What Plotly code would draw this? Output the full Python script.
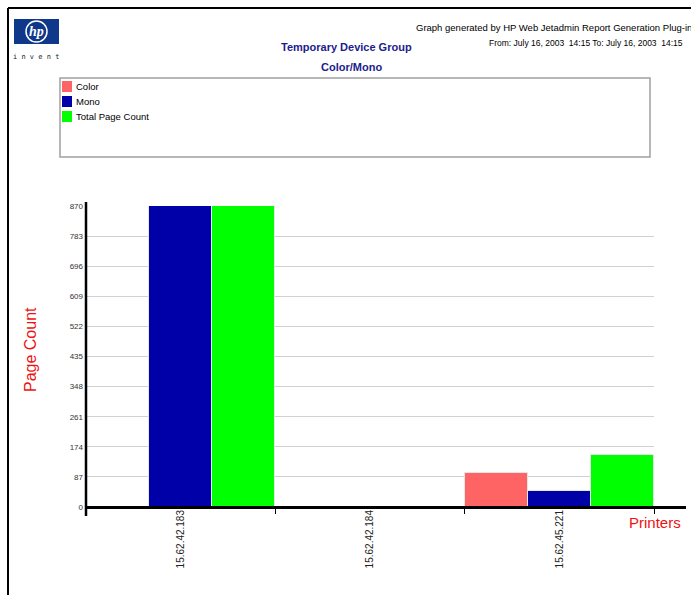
import plotly.graph_objects as go

# ---- data ----
printers = ["15.62.42.183", "15.62.42.184", "15.62.45.221"]
series_names = ["Color", "Mono", "Total Page Count"]
color_vals = [0, 0, 97]
mono_vals = [870, 0, 46]
total_vals = [870, 0, 150]
y_ticks = [0, 87, 174, 261, 348, 435, 522, 609, 696, 783, 870]

title_line1 = "Temporary Device Group"
title_line2 = "Color/Mono"
gen_text = "Graph generated by HP Web Jetadmin Report Generation Plug-in"
date_text = "From: July 16, 2003  14:15 To: July 16, 2003  14:15"

bar_colors = ["#ff6464", "#0000a8", "#00ff00"]

W, H = 691, 595
L, R, T, B = 86, 37, 206, 88
PW, PH = W - L - R, H - T - B

def px(x):
    return (x - L) / PW

def py(y):
    return (H - B - y) / PH

FONT = "Liberation Sans Narrow, Liberation Sans, Arial, sans-serif"

fig = go.Figure()
for name, vals, c in zip(series_names, [color_vals, mono_vals, total_vals], bar_colors):
    fig.add_trace(go.Bar(x=printers, y=vals, name=name, marker_color=c,
                         marker_line_color="#e6e6e6", marker_line_width=1))

shapes = []
annotations = []

# page border (left and top)
shapes.append(dict(type="line", xref="paper", yref="paper", x0=px(8), x1=px(8), y0=py(8), y1=py(600),
                   line=dict(color="black", width=2)))
shapes.append(dict(type="line", xref="paper", yref="paper", x0=px(8), x1=px(700), y0=py(8), y1=py(8),
                   line=dict(color="black", width=2)))

# legend box
shapes.append(dict(type="rect", xref="paper", yref="paper", x0=px(60), x1=px(650), y0=py(78), y1=py(157),
                   line=dict(color="#a0a0a0", width=1.5), fillcolor="white"))
for i, (name, c) in enumerate(zip(series_names, bar_colors)):
    yc = 86 + 15 * i
    shapes.append(dict(type="rect", xref="paper", yref="paper", x0=px(62), x1=px(72),
                       y0=py(yc - 5), y1=py(yc + 6), line=dict(width=0), fillcolor=c))
    annotations.append(dict(xref="paper", yref="paper", x=px(74), y=py(yc), text=name,
                            showarrow=False, xanchor="left", yanchor="middle",
                            font=dict(family=FONT, size=9.5, color="black")))

# axis lines (thick, extended)
shapes.append(dict(type="line", xref="paper", yref="paper", x0=px(85), x1=px(686), y0=py(507.5), y1=py(507.5),
                   line=dict(color="black", width=3)))
shapes.append(dict(type="line", xref="paper", yref="paper", x0=px(86), x1=px(86), y0=py(202), y1=py(516),
                   line=dict(color="black", width=2.5)))

# HP logo
shapes.append(dict(type="rect", xref="paper", yref="paper", x0=px(15), x1=px(58), y0=py(20), y1=py(43),
                   line=dict(color="#10388a", width=2), fillcolor="#10388a"))
shapes.append(dict(type="circle", xref="paper", yref="paper", x0=px(26), x1=px(47), y0=py(21), y1=py(42),
                   line=dict(color="white", width=1.5), fillcolor="#10388a"))
annotations.append(dict(xref="paper", yref="paper", x=px(36.5), y=py(31.5), text="<b><i>hp</i></b>",
                        showarrow=False, xanchor="center", yanchor="middle",
                        font=dict(family="Liberation Serif, serif", size=14, color="white")))
annotations.append(dict(xref="paper", yref="paper", x=px(36), y=py(57), text="i n v e n t",
                        showarrow=False, xanchor="center", yanchor="middle",
                        font=dict(family="DejaVu Sans Mono, monospace", size=7, color="#222")))

# titles
annotations.append(dict(xref="paper", yref="paper", x=px(346), y=py(47), text="<b>" + title_line1 + "</b>",
                        showarrow=False, xanchor="center", yanchor="middle",
                        font=dict(family=FONT, size=11, color="#1c1c8c")))
annotations.append(dict(xref="paper", yref="paper", x=px(351), y=py(67), text="<b>" + title_line2 + "</b>",
                        showarrow=False, xanchor="center", yanchor="middle",
                        font=dict(family=FONT, size=11, color="#1c1c8c")))
annotations.append(dict(xref="paper", yref="paper", x=px(694), y=py(27), text=gen_text,
                        showarrow=False, xanchor="right", yanchor="middle",
                        font=dict(family=FONT, size=9.5, color="black")))
annotations.append(dict(xref="paper", yref="paper", x=px(685), y=py(43), text=date_text,
                        showarrow=False, xanchor="right", yanchor="middle",
                        font=dict(family=FONT, size=8.5, color="black")))

# axis titles
annotations.append(dict(xref="paper", yref="paper", x=px(30), y=py(350), text="Page Count",
                        showarrow=False, textangle=-90, xanchor="center", yanchor="middle",
                        font=dict(family=FONT, size=16, color="#ee1111")))
annotations.append(dict(xref="paper", yref="paper", x=px(655), y=py(522), text="Printers",
                        showarrow=False, xanchor="center", yanchor="middle",
                        font=dict(family=FONT, size=15, color="#ee1111")))

fig.update_layout(
    width=W, height=H,
    margin=dict(l=L, r=R, t=T, b=B, pad=0),
    paper_bgcolor="white", plot_bgcolor="white",
    barmode="group", bargap=0, bargroupgap=0,
    showlegend=False,
    shapes=shapes, annotations=annotations,
    xaxis=dict(type="category", tickson="boundaries", ticks="outside", ticklen=6, tickwidth=1,
               tickcolor="black", tickangle=-90, showgrid=False, showline=False, zeroline=False,
               tickfont=dict(family=FONT, size=10, color="#222")),
    yaxis=dict(range=[0, 870], tickvals=y_ticks, ticktext=[str(v) for v in y_ticks],
               showgrid=True, gridcolor="#d2d2d2", gridwidth=1, zeroline=False, showline=False,
               ticks="", ticklabelstandoff=2,
               tickfont=dict(family=FONT, size=8, color="#333")),
    font=dict(family=FONT),
)

fig.write_html("out.html", config={"displayModeBar": False},
               post_script="document.body.style.margin='0';document.body.style.padding='0';document.body.style.overflow='hidden';")
